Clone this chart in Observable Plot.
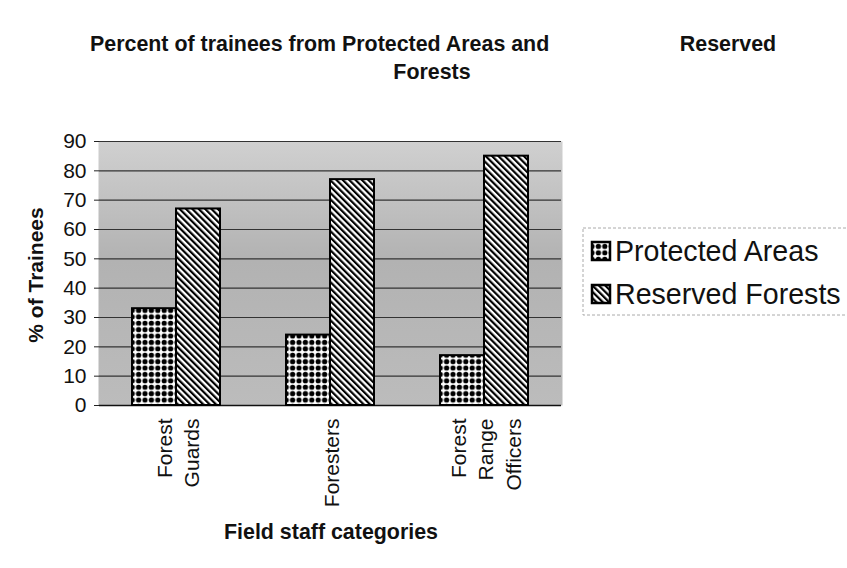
<!DOCTYPE html>
<html><head><meta charset="utf-8">
<script src="https://cdn.jsdelivr.net/npm/d3@7"></script>
<script src="https://cdn.jsdelivr.net/npm/@observablehq/plot@0.6"></script>
<style>
body{margin:0;background:#fff;font-family:"Liberation Sans",Arial,sans-serif;}
#wrap{position:relative;width:847px;height:568px;overflow:hidden;background:#fff;}
#wrap > svg{position:absolute;left:0;top:0;}
</style></head><body>
<div id="wrap">
<svg width="0" height="0" style="position:absolute"><defs>
<pattern id="pa" patternUnits="userSpaceOnUse" width="6.4" height="6.4"><rect width="6.4" height="6.4" fill="#fff"/><circle cx="3.2" cy="3.2" r="2.6" fill="#000"/></pattern>
<pattern id="rf" patternUnits="userSpaceOnUse" width="4.5" height="4.5" patternTransform="rotate(-45)"><rect width="4.5" height="4.5" fill="#fff"/><rect width="2.2" height="4.5" fill="#000"/></pattern>
<linearGradient id="bg" x1="0" y1="0" x2="0" y2="1"><stop offset="0" stop-color="#d0d0d0"/><stop offset="0.45" stop-color="#b2b2b2"/><stop offset="1" stop-color="#bcbcbc"/></linearGradient>
</defs></svg>
</div>
<script>
const categories = ["Forest Guards", "Foresters", "Forest Range Officers"];
const categoryLabels = ["Forest\nGuards", "Foresters", "Forest\nRange\nOfficers"];
const series = ["Protected Areas", "Reserved Forests"];
const protectedAreas = [33, 24, 17];
const reservedForests = [67, 77, 85];
const yTicks = [0, 10, 20, 30, 40, 50, 60, 70, 80, 90];
const titleLine1 = "Percent of trainees from Protected Areas and";
const titleLine1b = "Reserved";
const titleLine2 = "Forests";
const yTitle = "% of Trainees";
const xTitle = "Field staff categories";

const data = categories.flatMap((c, i) => [
  {category: c, series: series[0], value: protectedAreas[i]},
  {category: c, series: series[1], value: reservedForests[i]}
]);

const font = "Liberation Sans, Arial, sans-serif";
const chart = Plot.plot({
  width: 847, height: 568,
  marginLeft: 98, marginRight: 286, marginTop: 141, marginBottom: 163,
  style: {fontFamily: font, fontSize: "21px", color: "#111", background: "transparent"},
  fx: {domain: categories, padding: 0, label: null, axis: null},
  x: {domain: series, paddingInner: 0, paddingOuter: 0.75, axis: null},
  y: {domain: [0, 90], axis: null},
  color: {domain: series, range: ["url(#pa)", "url(#rf)"]},
  marks: [
    Plot.frame({fill: "url(#bg)", stroke: "none", insetLeft: -1, insetRight: -1}),
    Plot.gridY(yTicks, {stroke: "#333", strokeOpacity: 1, strokeWidth: 1.2}),
    Plot.ruleY([0], {stroke: "#111", strokeWidth: 1.5}),
    Plot.axisY({ticks: yTicks, anchor: "left", tickSize: 5, tickPadding: 8, fontSize: 21, label: null, line: true, stroke: "#222"}),
    Plot.axisY({ticks: [], anchor: "right", tickSize: 0, label: null, line: true, stroke: "#222"}),
    Plot.axisFx({anchor: "bottom", tickFormat: d => categoryLabels[categories.indexOf(d)], tickRotate: -90, tickSize: 0, tickPadding: 13, fontSize: 21, lineHeight: 1.3, label: null}),
    Plot.barY(data, {fx: "category", x: "series", y: "value", fill: "series", stroke: "#000", strokeWidth: 2})
  ]
});
const wrap = document.getElementById("wrap");
wrap.appendChild(chart);

// Overlay texts and legend
const ov = d3.select(wrap).append("svg").attr("width", 847).attr("height", 568)
  .style("font-family", font).style("fill", "#111");
ov.append("text").attr("x", 90).attr("y", 51).attr("font-size", 21.4).attr("font-weight", "bold").text(titleLine1);
ov.append("text").attr("x", 728).attr("y", 51).attr("text-anchor", "middle").attr("font-size", 21.4).attr("font-weight", "bold").text(titleLine1b);
ov.append("text").attr("x", 432).attr("y", 79).attr("text-anchor", "middle").attr("font-size", 21.4).attr("font-weight", "bold").text(titleLine2);
ov.append("text").attr("transform", "translate(43,275) rotate(-90)").attr("text-anchor", "middle").attr("font-size", 21).attr("font-weight", "bold").text(yTitle);
ov.append("text").attr("x", 331).attr("y", 539).attr("text-anchor", "middle").attr("font-size", 21.4).attr("font-weight", "bold").text(xTitle);

const lg = ov.append("g");
lg.append("rect").attr("x", 583).attr("y", 228).attr("width", 290).attr("height", 87)
  .attr("fill", "none").attr("stroke", "#aaa").attr("stroke-dasharray", "3,2");
series.forEach((s, i) => {
  const cy = 251 + i * 43;
  lg.append("rect").attr("x", 592).attr("y", cy - 9).attr("width", 18).attr("height", 18)
    .attr("fill", i === 0 ? "url(#pa)" : "url(#rf)").attr("stroke", "#000").attr("stroke-width", 2.5);
  lg.append("text").attr("x", 615).attr("y", cy + 10).attr("font-size", 28.6).text(s);
});
</script>
</body></html>
